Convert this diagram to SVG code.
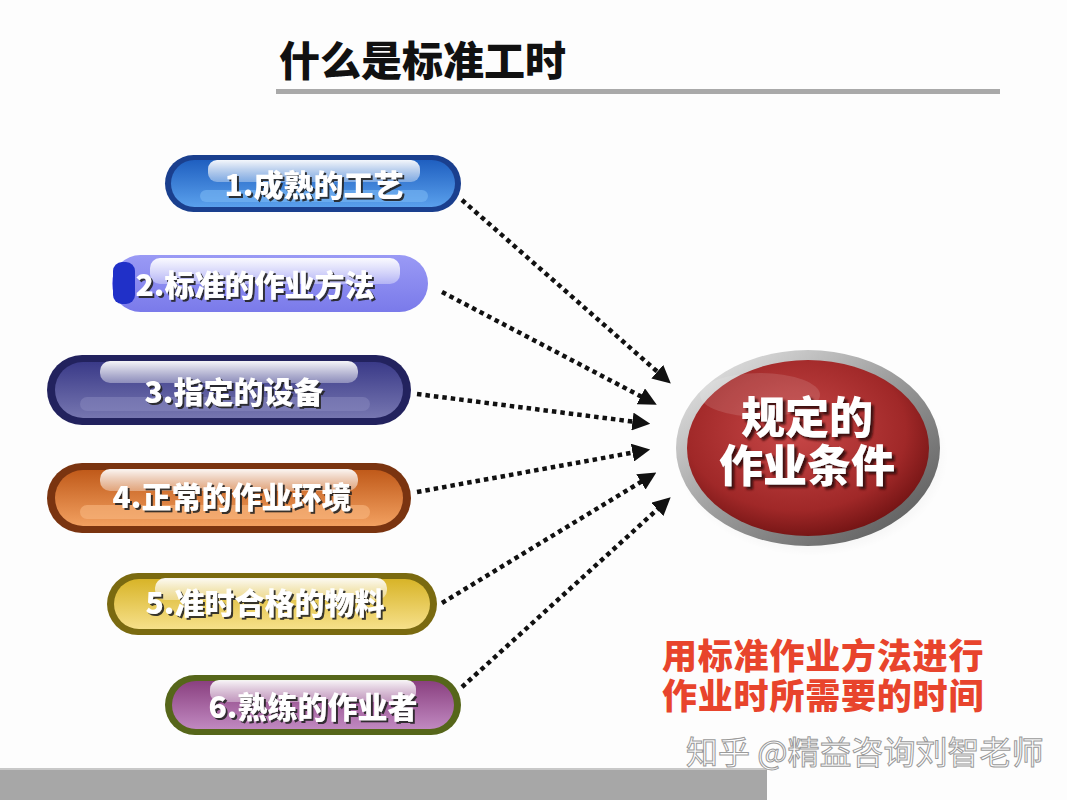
<svg xmlns="http://www.w3.org/2000/svg" width="1067" height="800" viewBox="0 0 1067 800">
<defs>
<style>
.pt{font-family:"Noto Sans CJK SC","Noto Sans",sans-serif;font-weight:900;font-size:30px;text-anchor:middle;fill:#ffffff;filter:url(#ds)}
.title{font-family:"Noto Sans CJK SC",sans-serif;font-weight:900;font-size:41px;fill:#111}
.red{font-family:"Noto Sans CJK SC",sans-serif;font-weight:900;font-size:35px;letter-spacing:0.8px;fill:#e8442c}
.ct{font-family:"Noto Sans CJK SC",sans-serif;font-weight:900;font-size:44px;text-anchor:middle;fill:#ffffff;filter:url(#ds2)}
.wm{font-family:"Noto Sans CJK SC",sans-serif;font-size:32px;fill:#ffffff;stroke:#9a9a9a;stroke-width:1}
.conn{fill:none;stroke:#111;stroke-width:4.5;stroke-dasharray:4.5 4}
</style>
<filter id="ds" x="-10%" y="-30%" width="120%" height="160%">
<feDropShadow dx="2" dy="2" stdDeviation="0.6" flood-color="#222" flood-opacity="0.9"/>
</filter>
<filter id="ds2" x="-10%" y="-30%" width="120%" height="160%">
<feDropShadow dx="3" dy="3" stdDeviation="0.8" flood-color="#3a0a0a" flood-opacity="0.95"/>
</filter>
<marker id="ah" viewBox="0 0 10 10" refX="2" refY="5" markerWidth="4" markerHeight="4" orient="auto" markerUnits="strokeWidth">
<path d="M0,0 L10,5 L0,10 z" fill="#111"/>
</marker>
<linearGradient id="hl" x1="0" y1="0" x2="0" y2="1">
<stop offset="0" stop-color="#ffffff" stop-opacity="0.95"/>
<stop offset="1" stop-color="#ffffff" stop-opacity="0.35"/>
</linearGradient>
<linearGradient id="g1" x1="0" y1="0" x2="0" y2="1"><stop offset="0" stop-color="#1f5fc0"/><stop offset="1" stop-color="#5aa0ec"/></linearGradient>
<linearGradient id="g2" x1="0" y1="0" x2="0" y2="1"><stop offset="0" stop-color="#9a9af5"/><stop offset="1" stop-color="#7a7aea"/></linearGradient>
<linearGradient id="g3" x1="0" y1="0" x2="0" y2="1"><stop offset="0" stop-color="#3a3a88"/><stop offset="1" stop-color="#7676b0"/></linearGradient>
<linearGradient id="g4" x1="0" y1="0" x2="0" y2="1"><stop offset="0" stop-color="#c05a1a"/><stop offset="1" stop-color="#f2a060"/></linearGradient>
<linearGradient id="g5" x1="0" y1="0" x2="0" y2="1"><stop offset="0" stop-color="#d8b428"/><stop offset="1" stop-color="#f6e08a"/></linearGradient>
<linearGradient id="g6" x1="0" y1="0" x2="0" y2="1"><stop offset="0" stop-color="#8a4080"/><stop offset="1" stop-color="#c088c0"/></linearGradient>
<linearGradient id="rim" x1="0" y1="0" x2="1" y2="1">
<stop offset="0" stop-color="#f0f0f0"/><stop offset="0.5" stop-color="#9a9a9a"/><stop offset="1" stop-color="#505050"/>
</linearGradient>
<radialGradient id="redg" cx="0.45" cy="0.4" r="0.65">
<stop offset="0" stop-color="#c84848"/><stop offset="0.7" stop-color="#a02828"/><stop offset="1" stop-color="#6a1010"/>
</radialGradient>
<radialGradient id="shadow" cx="0.5" cy="0.5" r="0.5">
<stop offset="0" stop-color="#000" stop-opacity="0.25"/><stop offset="1" stop-color="#000" stop-opacity="0"/>
</radialGradient>
</defs>

<rect width="1067" height="800" fill="#fdfdfd"/>

<g id="title">
<text class="title" x="279" y="76">什么是标准工时</text>
<rect x="276" y="89" width="724" height="5" fill="#a9a9a9"/>
</g>

<g id="connectors">
<path class="conn" d="M462,200 L660,374" marker-end="url(#ah)"/>
<path class="conn" d="M442,292 L644,398" marker-end="url(#ah)"/>
<path class="conn" d="M417,394 L636,422" marker-end="url(#ah)"/>
<path class="conn" d="M417,492 L636,452" marker-end="url(#ah)"/>
<path class="conn" d="M442,603 L644,480" marker-end="url(#ah)"/>
<path class="conn" d="M462,687 L660,507" marker-end="url(#ah)"/>
</g>

<g id="pill1">
<rect x="165" y="155" width="296" height="57" rx="28.5" fill="#1a3f8e"/>
<rect x="171" y="160" width="284" height="47" rx="23.5" fill="url(#g1)"/>
<rect x="208" y="160" width="212" height="22" rx="9" fill="url(#hl)"/>
<rect x="200" y="190" width="228" height="12" rx="6" fill="#7ab8f4" opacity="0.6"/>
<text class="pt" x="314" y="196">1.成熟的工艺</text>
</g>

<g id="pill2">
<rect x="112" y="255" width="316" height="57" rx="28.5" fill="url(#g2)"/>
<rect x="150" y="258" width="250" height="26" rx="10" fill="url(#hl)"/>
<rect x="113" y="262" width="22" height="42" rx="9" fill="#2030c8"/>
<text class="pt" x="255" y="296">2.标准的作业方法</text>
</g>

<g id="pill3">
<rect x="47" y="355" width="364" height="70" rx="35" fill="#22225e"/>
<rect x="55" y="362" width="348" height="56" rx="28" fill="url(#g3)"/>
<rect x="100" y="361" width="258" height="22" rx="10" fill="url(#hl)"/>
<rect x="80" y="397" width="290" height="14" rx="7" fill="#8a8ac0" opacity="0.5"/>
<text class="pt" x="234" y="403">3.指定的设备</text>
</g>

<g id="pill4">
<rect x="47" y="463" width="364" height="70" rx="35" fill="#7a3410"/>
<rect x="55" y="470" width="348" height="56" rx="28" fill="url(#g4)"/>
<rect x="100" y="469" width="258" height="22" rx="10" fill="url(#hl)"/>
<rect x="80" y="505" width="290" height="14" rx="7" fill="#f8b880" opacity="0.6"/>
<text class="pt" x="232" y="508">4.正常的作业环境</text>
</g>

<g id="pill5">
<rect x="107" y="573" width="330" height="62" rx="31" fill="#7a6a10"/>
<rect x="114" y="579" width="316" height="50" rx="25" fill="url(#g5)"/>
<rect x="155" y="578" width="232" height="22" rx="10" fill="url(#hl)"/>
<text class="pt" x="265" y="614">5.准时合格的物料</text>
</g>

<g id="pill6">
<rect x="165" y="675" width="296" height="60" rx="30" fill="#56661a"/>
<rect x="172" y="681" width="282" height="48" rx="24" fill="url(#g6)"/>
<rect x="210" y="680" width="206" height="22" rx="9" fill="url(#hl)"/>
<text class="pt" x="313" y="718">6.熟练的作业者</text>
</g>

<g id="center">
<ellipse cx="812" cy="456" rx="136" ry="100" fill="url(#shadow)"/>
<ellipse cx="808" cy="448" rx="132" ry="98" fill="url(#rim)"/>
<ellipse cx="808" cy="448" rx="121" ry="88" fill="url(#redg)"/>
<ellipse cx="760" cy="395" rx="60" ry="22" fill="#ffffff" opacity="0.12"/>
<text class="ct" x="807" y="434"><tspan x="807" y="434">规定的</tspan><tspan x="807" y="482">作业条件</tspan></text>
</g>

<g id="definition">
<text class="red" x="662" y="669"><tspan x="662" y="669">用标准作业方法进行</tspan><tspan x="662" y="709">作业时所需要的时间</tspan></text>
</g>

<rect x="0" y="769" width="767" height="31" fill="#a7a7a7"/>
<rect x="0" y="768" width="767" height="2" fill="#c8c8c8"/>

<text class="wm" x="686" y="764">知乎 @精益咨询刘智老师</text>
</svg>
